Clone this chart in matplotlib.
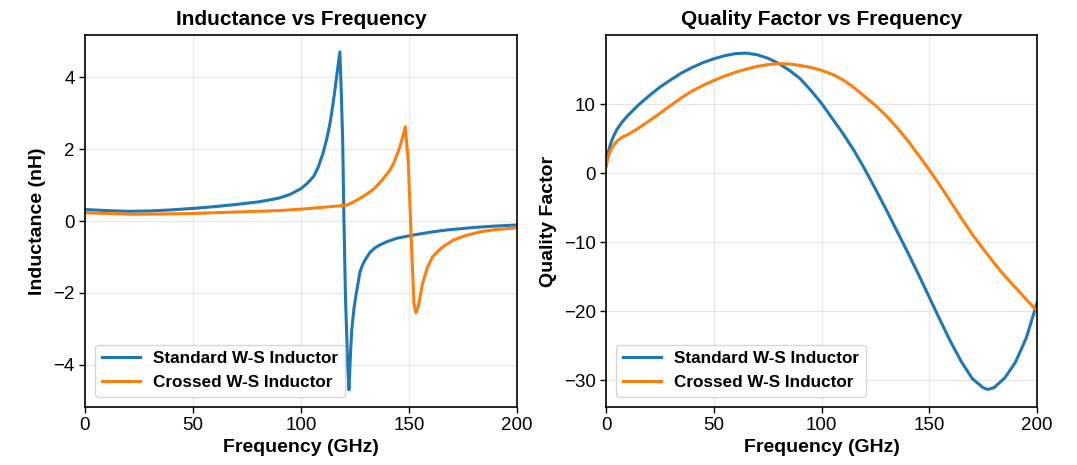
# Inductance and quality factor of standard vs crossed W-S inductors
import numpy as np
import matplotlib
matplotlib.use("Agg")
import matplotlib.pyplot as plt

plt.rcParams["font.family"] = ["Liberation Sans", "DejaVu Sans"]

# %% data (frequency in GHz)
f_std_L = [0, 10, 20, 30, 40, 50, 60, 70, 80, 85, 90, 95, 100, 103, 106, 108, 110.3,
           112, 113.4, 114.7, 115.7, 116.8, 118, 118.6, 119.3, 119.9, 120.6, 121.6,
           122.2, 123, 123.5, 124.5, 125.5, 127.3, 128.5, 130, 132, 134, 136, 140,
           144.3, 152, 160, 167.4, 180, 190, 200]
L_std = [0.32, 0.29, 0.27, 0.28, 0.31, 0.35, 0.40, 0.46, 0.53, 0.58, 0.64, 0.74, 0.90,
         1.05, 1.25, 1.5, 1.9, 2.3, 2.7, 3.2, 3.64, 4.15, 4.7, 3.7, 2.25, 0.03, -2.1,
         -3.95, -4.69, -3.6, -3.03, -2.45, -2.05, -1.42, -1.22, -1.05, -0.87, -0.76,
         -0.68, -0.57, -0.48, -0.39, -0.31, -0.25, -0.18, -0.14, -0.11]

f_crs_L = [0, 10, 20, 30, 40, 50, 60, 70, 80, 90, 100, 110, 121.1, 124, 127, 130,
           133.5, 136, 138, 140, 141.2, 143, 144.5, 145.8, 147.1, 148.3, 149.7, 151.2,
           152.3, 153.2, 154.3, 156.3, 158.5, 161, 165, 170.5, 176, 182.9, 190, 200]
L_crs = [0.23, 0.21, 0.19, 0.19, 0.20, 0.21, 0.23, 0.25, 0.27, 0.29, 0.33, 0.38, 0.44,
         0.52, 0.62, 0.73, 0.88, 1.03, 1.17, 1.32, 1.42, 1.62, 1.85, 2.06, 2.34, 2.62,
         1.6, -0.71, -2.29, -2.55, -2.38, -1.73, -1.3, -0.99, -0.75, -0.53, -0.41,
         -0.30, -0.24, -0.19]

f_Q = [0, 0.5, 1, 2, 3, 5, 7.5, 10, 15, 20, 25, 30, 35, 40, 45, 50, 55, 60, 65, 70, 75,
       80, 85, 90, 95, 100, 105, 110, 115, 120, 125, 130, 135, 140, 145, 150, 155, 160,
       165, 170, 175, 177, 180, 185, 190, 195, 200]
Q_std = [1.06, 2.2, 3.0, 4.1, 5.0, 6.3, 7.4, 8.3, 9.85, 11.2, 12.45, 13.5, 14.5, 15.3,
         16.0, 16.55, 17.0, 17.3, 17.38, 17.15, 16.65, 15.9, 14.9, 13.7, 12.0, 10.1, 7.9,
         5.7, 3.3, 0.6, -2.3, -5.3, -8.4, -11.5, -14.7, -18.0, -21.3, -24.5, -27.4,
         -29.8, -31.1, -31.35, -31.1, -29.7, -27.4, -23.9, -18.8]
Q_crs = [0.9, 1.6, 2.3, 3.2, 3.8, 4.6, 5.2, 5.55, 6.5, 7.55, 8.65, 9.8, 10.9, 11.9,
         12.7, 13.4, 14.05, 14.6, 15.05, 15.45, 15.72, 15.85, 15.8, 15.6, 15.3, 14.9,
         14.3, 13.5, 12.4, 11.1, 9.8, 8.3, 6.6, 4.7, 2.6, 0.45, -1.8, -4.2, -6.6, -8.9,
         -11.0, -11.8, -13.0, -14.9, -16.6, -18.3, -20.0]

labels = ["Standard W-S Inductor", "Crossed W-S Inductor"]
colors = ["#1f77b4", "#ff7f0e"]

# %% plot
fig = plt.figure(figsize=(10.77, 4.65), dpi=100)
ax1 = fig.add_axes([0.0789, 0.1247, 0.4011, 0.80])
ax2 = fig.add_axes([0.5627, 0.1247, 0.4002, 0.80])

ax1.plot(f_std_L, L_std, color=colors[0], lw=2.2, label=labels[0])
ax1.plot(f_crs_L, L_crs, color=colors[1], lw=2.2, label=labels[1])
ax2.plot(f_Q, Q_std, color=colors[0], lw=2.2, label=labels[0])
ax2.plot(f_Q, Q_crs, color=colors[1], lw=2.2, label=labels[1])

ax1.set_ylim(-5.17, 5.17)
ax1.set_yticks([-4, -2, 0, 2, 4])
ax2.set_ylim(-33.9, 20.0)
ax2.set_yticks([-30, -20, -10, 0, 10])

for ax, title, ylabel in [(ax1, "Inductance vs Frequency", "Inductance (nH)"),
                          (ax2, "Quality Factor vs Frequency", "Quality Factor")]:
    ax.set_xlim(0, 200)
    ax.set_xticks([0, 50, 100, 150, 200])
    ax.set_title(title, fontsize=15, fontweight="bold", pad=7)
    ax.set_xlabel("Frequency (GHz)", fontsize=14, fontweight="bold", labelpad=3)
    ax.set_ylabel(ylabel, fontsize=14, fontweight="bold", labelpad=5)
    ax.tick_params(labelsize=13.5, length=4, width=1)
    ax.grid(True, alpha=0.3)
    for s in ax.spines.values():
        s.set_linewidth(1.2)
    ax.legend(loc="lower left", prop={"weight": "bold", "size": 12.3},
              handlelength=2.2, borderaxespad=0.6)

fig.savefig("out.png", dpi=100)
